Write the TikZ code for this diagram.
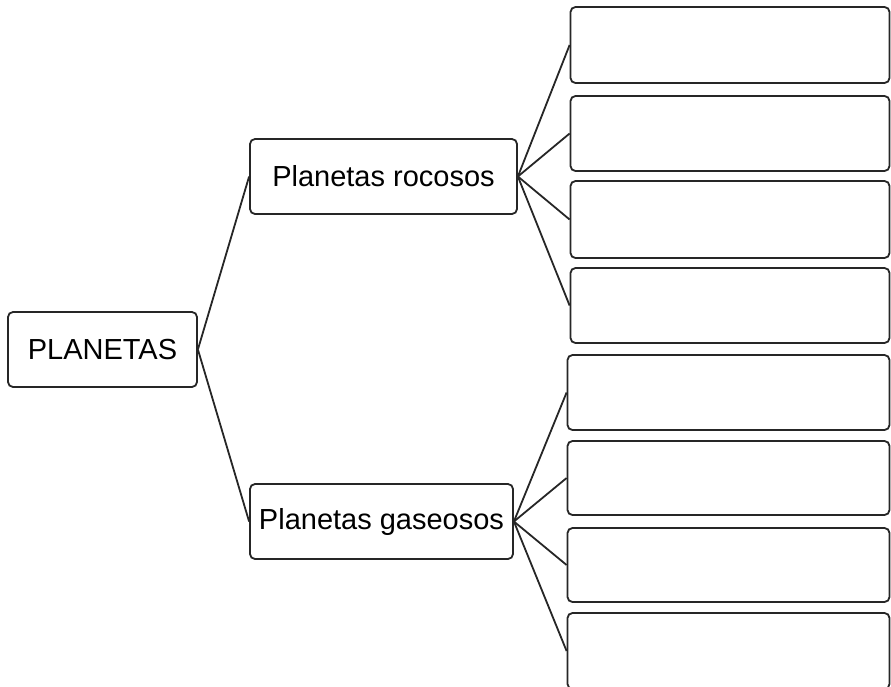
\documentclass[tikz,border=0pt]{standalone}
\usepackage{fontspec}
\setmainfont{Liberation Sans}
\begin{document}
\begin{tikzpicture}[x=1pt,y=-1pt,
  box/.style={draw=black!85, line width=1.8pt, rounded corners=5pt, fill=white, inner sep=0pt, font=\fontsize{29}{32}\selectfont},
  link/.style={draw=black!85, line width=1.8pt}]
\useasboundingbox (0,0) rectangle (891,686);
\clip (0,0) rectangle (891,686);
% main nodes
\node[box, minimum width=189pt, minimum height=75pt] (root) at (102.5,349.5) {PLANETAS};
\node[box, minimum width=267pt, minimum height=75pt] (roc) at (383.5,176.5) {Planetas rocosos};
\node[box, minimum width=263pt, minimum height=75pt] (gas) at (381.5,521.5) {Planetas gaseosos};
% right boxes (rocosos)
\node[box, minimum width=319pt, minimum height=76pt] (r1) at (730,45) {};
\node[box, minimum width=319pt, minimum height=75pt] (r2) at (730,133.5) {};
\node[box, minimum width=319pt, minimum height=77pt] (r3) at (730,219.5) {};
\node[box, minimum width=319pt, minimum height=75pt] (r4) at (730,305.5) {};
% right boxes (gaseosos)
\node[box, minimum width=322pt, minimum height=75pt] (g1) at (728.5,392.5) {};
\node[box, minimum width=322pt, minimum height=74pt] (g2) at (728.5,478) {};
\node[box, minimum width=322pt, minimum height=74pt] (g3) at (728.5,565) {};
\node[box, minimum width=322pt, minimum height=76pt] (g4) at (728.5,651) {};
% connectors
\draw[link] (root.east) -- (roc.west);
\draw[link] (root.east) -- (gas.west);
\foreach \n in {r1,r2,r3,r4} \draw[link] (roc.east) -- (\n.west);
\foreach \n in {g1,g2,g3,g4} \draw[link] (gas.east) -- (\n.west);
\end{tikzpicture}
\end{document}
